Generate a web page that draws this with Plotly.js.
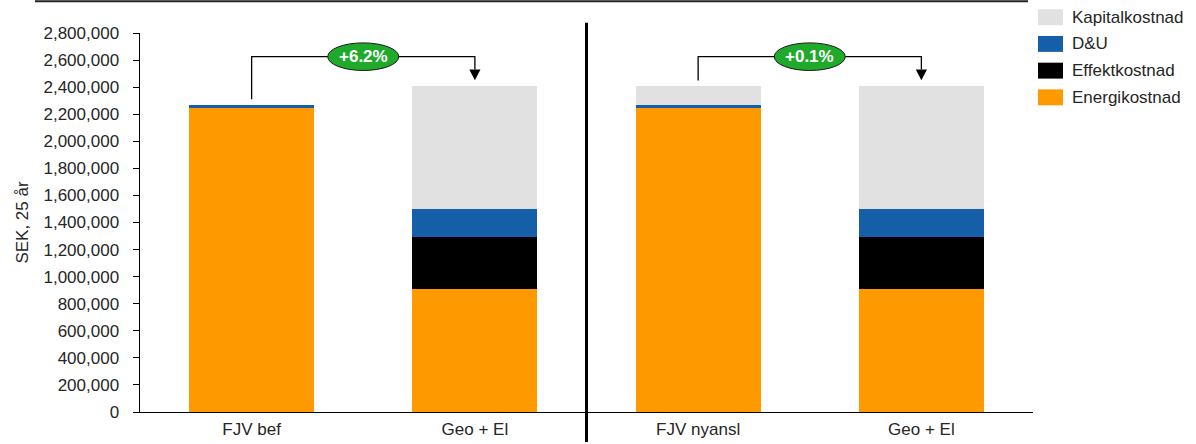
<!DOCTYPE html>
<html><head><meta charset="utf-8">
<script src="https://cdn.plot.ly/plotly-3.0.1.min.js"></script>
<style>html,body{margin:0;padding:0;background:#fff}#chart{width:1196px;height:444px}</style>
</head><body><div id="chart"></div>
<script>
// ---- data ----
const categories = ["FJV bef", "Geo + El", "FJV nyansl", "Geo + El"];
const energikostnad = [2246000, 907000, 2246000, 907000];
const effektkostnad = [0, 385000, 0, 385000];
const dou = [22000, 207000, 22000, 207000];
const kapitalkostnad = [0, 910000, 139000, 910000];
const yTicks = [0, 200000, 400000, 600000, 800000, 1000000, 1200000, 1400000,
                1600000, 1800000, 2000000, 2200000, 2400000, 2600000, 2800000];
const compareFrom = [0, 2];
const compareTo = [1, 3];
const changeLabels = ["+6.2%", "+0.1%"];

// ---- styling ----
const FONT = "Liberation Sans, Arial, sans-serif";
const series = [
  {name: "Energikostnad", values: energikostnad, color: "#FF9900"},
  {name: "Effektkostnad", values: effektkostnad, color: "#000000"},
  {name: "D&U", values: dou, color: "#155EA8"},
  {name: "Kapitalkostnad", values: kapitalkostnad, color: "#E1E1E1"}
];
const xs = categories.map((_, i) => i);
const totals = xs.map(i => series.reduce((s, t) => s + t.values[i], 0));

const traces = series.map(s => ({
  type: "bar", x: xs, y: s.values, name: s.name, width: 0.56,
  marker: {color: s.color, line: {width: 0}}, showlegend: false, hoverinfo: "y+name"
}));

const shapes = [];
const annotations = [];
const level = Math.max(...totals) + 216000;
const gap = 42000, headH = 80000, headW = 0.025;
compareFrom.forEach((a, k) => {
  const b = compareTo[k];
  const mid = (a + b) / 2;
  shapes.push({type: "path", xref: "x", yref: "y",
    path: `M ${a},${totals[a] + gap} L ${a},${level} L ${b},${level} L ${b},${totals[b] + gap + headH}`,
    line: {color: "#000", width: 1.3}});
  shapes.push({type: "path", xref: "x", yref: "y",
    path: `M ${b - headW},${totals[b] + gap + headH} L ${b + headW},${totals[b] + gap + headH} L ${b},${totals[b] + gap} Z`,
    fillcolor: "#000", line: {width: 0}});
  shapes.push({type: "circle", xref: "x", yref: "y",
    x0: mid - 0.159, x1: mid + 0.159, y0: level - 102000, y1: level + 102000,
    fillcolor: "#1FAA2B", line: {color: "#1a1a1a", width: 1}});
  annotations.push({x: mid, y: level, xref: "x", yref: "y", text: "<b>" + changeLabels[k] + "</b>",
    showarrow: false, font: {family: FONT, size: 17, color: "#fff"}});
});

// divider between the two groups and top rule
shapes.push({type: "line", xref: "paper", yref: "paper", x0: 0.5, x1: 0.5, y0: -0.079, y1: 1.027,
  line: {color: "#000", width: 3}});
shapes.push({type: "line", xref: "paper", yref: "paper", x0: -0.1176, x1: 0.9944, y0: 1.084, y1: 1.084,
  line: {color: "#222", width: 2}});

// custom legend (top to bottom = reverse stack order)
const legendItems = series.slice().reverse();
legendItems.forEach((s, i) => {
  const yc = 1.0417 - i * 0.0705;
  shapes.push({type: "rect", xref: "paper", yref: "paper",
    x0: 1.0056, x1: 1.0336, y0: yc - 0.021, y1: yc + 0.021,
    fillcolor: s.color, line: {width: 0}});
  annotations.push({xref: "paper", yref: "paper", x: 1.0417, y: yc, xanchor: "left", yanchor: "middle",
    text: s.name.replace("&", "&amp;"), showarrow: false, font: {family: FONT, size: 17, color: "#262626"}});
});

const layout = {
  width: 1196, height: 444,
  margin: {l: 140, r: 163, t: 33, b: 32},
  paper_bgcolor: "#fff", plot_bgcolor: "#fff",
  barmode: "stack", showlegend: false,
  font: {family: FONT, size: 17, color: "#262626"},
  xaxis: {range: [-0.5, 3.5], tickvals: xs, ticktext: categories, showline: true,
    linecolor: "#000", linewidth: 1, ticks: "", showgrid: false, zeroline: false,
    ticklabelstandoff: 2, fixedrange: true},
  yaxis: {range: [0, 2800000], tickvals: yTicks, tickformat: ",", ticks: "outside", ticklen: 6,
    tickcolor: "#000", showline: true, linecolor: "#000", linewidth: 1.5, showgrid: false,
    zeroline: false, ticklabelstandoff: 10, fixedrange: true,
    title: {text: "SEK, 25 år", font: {family: FONT, size: 17, color: "#262626"}, standoff: 10}},
  shapes: shapes, annotations: annotations
};
Plotly.newPlot("chart", traces, layout, {displayModeBar: false, staticPlot: true});
</script></body></html>
